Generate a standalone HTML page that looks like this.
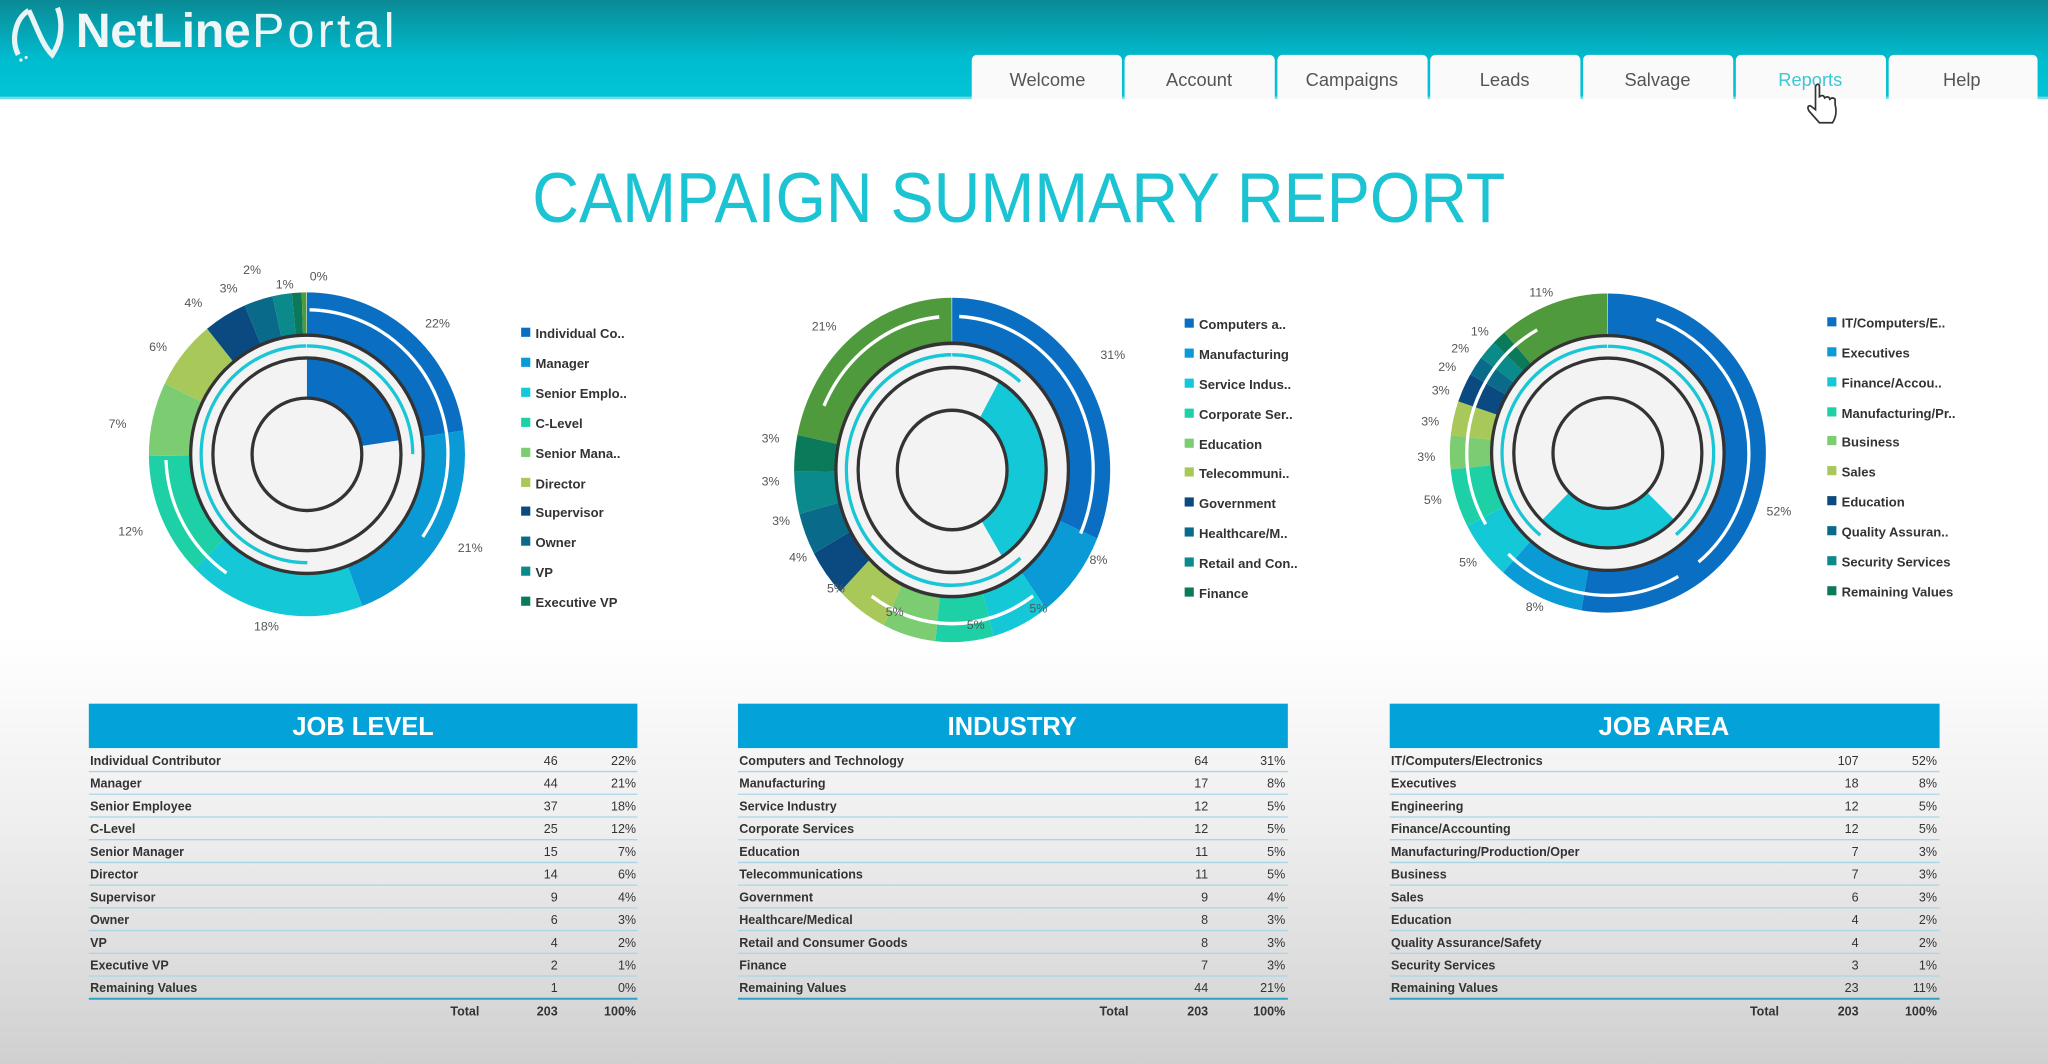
<!DOCTYPE html>
<html><head><meta charset="utf-8">
<style>
html,body{margin:0;padding:0;background:#fff;width:2048px;height:1064px;overflow:hidden}
svg{display:block}
text{font-family:"Liberation Sans",sans-serif}
.lg{font-size:10px;font-weight:bold;fill:#333}
.pc{font-size:9.5px;fill:#555}
.tr{font-size:9.6px;font-weight:bold;fill:#333}
</style></head><body>
<svg width="2048" height="1064" viewBox="0 0 1568 815" preserveAspectRatio="none" xmlns="http://www.w3.org/2000/svg">
<defs>
<linearGradient id="hdr" x1="0" y1="0" x2="0" y2="1"><stop offset="0" stop-color="#0a8a95"/><stop offset="0.6" stop-color="#00bccf"/><stop offset="1" stop-color="#02c4d6"/></linearGradient>
<linearGradient id="bg" x1="0" y1="0" x2="0" y2="1"><stop offset="0" stop-color="#ffffff"/><stop offset="0.6" stop-color="#ffffff"/><stop offset="0.78" stop-color="#eeeeee"/><stop offset="1" stop-color="#d0d0d0"/></linearGradient>
</defs>
<rect width="1568" height="815" fill="url(#bg)"/>
<rect width="1568" height="75" fill="url(#hdr)"/>
<rect y="74" width="1568" height="2" fill="#6fdbe6"/>
<!-- logo -->
<path d="M14 42 C8 30 12 14 22 8 M22 8 C28 20 32 34 40 42 C48 30 48 16 44 6" fill="none" stroke="#e8f4f6" stroke-width="4"/>
<circle cx="16" cy="46" r="1.3" fill="#e8f4f6"/><circle cx="20" cy="44" r="1.2" fill="#e8f4f6"/><circle cx="12" cy="38" r="1.2" fill="#e8f4f6"/>
<text x="58" y="36" font-size="37" font-weight="bold" fill="#eef6f7" textLength="134">NetLine</text>
<text x="193" y="36" font-size="37" fill="#eef6f7" textLength="109">Portal</text>
<!-- tabs -->
<g font-size="14" fill="#555" text-anchor="middle">
<rect x="744" y="42" width="115" height="40" rx="4" fill="#fafafa"/>
<rect x="861" y="42" width="115" height="40" rx="4" fill="#fafafa"/>
<rect x="978" y="42" width="115" height="40" rx="4" fill="#fafafa"/>
<rect x="1095" y="42" width="115" height="40" rx="4" fill="#fafafa"/>
<rect x="1212" y="42" width="115" height="40" rx="4" fill="#fafafa"/>
<rect x="1329" y="42" width="115" height="40" rx="4" fill="#fafafa"/>
<rect x="1446" y="42" width="114" height="40" rx="4" fill="#fafafa"/>
<rect x="744" y="76" width="816" height="8" fill="#fff"/>
<text x="802" y="66">Welcome</text>
<text x="918" y="66">Account</text>
<text x="1035" y="66">Campaigns</text>
<text x="1152" y="66">Leads</text>
<text x="1269" y="66">Salvage</text>
<text x="1386" y="66" fill="#3cc6d6">Reports</text>
<text x="1502" y="66">Help</text>
</g>
<path d="M1390 66 v18 l-4 -3 q-3 0 -1 4 l8 9 h10 q4 -6 2 -14 v-4 q-2 -2 -4 0 q-1 -3 -4 -1 q-1 -3 -4 -1 v-8 q-1 -3 -3 0z" fill="#fff" stroke="#333" stroke-width="1.3"/>
<!-- title -->
<text x="780" y="170" font-size="54" fill="#1cc3d3" text-anchor="middle" textLength="745" lengthAdjust="spacingAndGlyphs">CAMPAIGN SUMMARY REPORT</text>

<!-- Chart 1 -->
<g transform="translate(235,348) scale(1,1.025)">
<circle r="89" fill="#f3f3f3"/>
<g transform="rotate(-90)" fill="none" stroke-width="32">
<circle r="105" pathLength="100" stroke="#0a6fc2" stroke-dasharray="22.66 100"/>
<circle r="105" pathLength="100" stroke="#0a9ad6" stroke-dasharray="21.67 100" stroke-dashoffset="-22.66"/>
<circle r="105" pathLength="100" stroke="#14c8d8" stroke-dasharray="18.23 100" stroke-dashoffset="-44.33"/>
<circle r="105" pathLength="100" stroke="#1dd0a6" stroke-dasharray="12.32 100" stroke-dashoffset="-62.56"/>
<circle r="105" pathLength="100" stroke="#7ccc72" stroke-dasharray="7.39 100" stroke-dashoffset="-74.88"/>
<circle r="105" pathLength="100" stroke="#a9c85a" stroke-dasharray="6.9 100" stroke-dashoffset="-82.27"/>
<circle r="105" pathLength="100" stroke="#0a4a80" stroke-dasharray="4.43 100" stroke-dashoffset="-89.17"/>
<circle r="105" pathLength="100" stroke="#0a6a8a" stroke-dasharray="2.96 100" stroke-dashoffset="-93.6"/>
<circle r="105" pathLength="100" stroke="#0a8a8a" stroke-dasharray="1.97 100" stroke-dashoffset="-96.56"/>
<circle r="105" pathLength="100" stroke="#0a7a5a" stroke-dasharray="0.99 100" stroke-dashoffset="-98.53"/>
<circle r="105" pathLength="100" stroke="#4f9a3c" stroke-dasharray="0.48 100" stroke-dashoffset="-99.52"/>
<g stroke="#fff" stroke-width="2.5">
<circle r="108" pathLength="100" stroke-dasharray="34.4 100" stroke-dashoffset="-0.3"/>
<circle r="108" pathLength="100" stroke-dasharray="14.7 100" stroke-dashoffset="-59.7"/>
</g>
<g stroke="#18c6d6" stroke-width="2.5">
<circle r="81" pathLength="100" stroke-dasharray="50 100" stroke-dashoffset="-50"/>
<circle r="81" pathLength="100" stroke-dasharray="25 100"/>
</g>
<circle r="57" pathLength="100" stroke="#0a6fc2" stroke-width="30" stroke-dasharray="22.66 100"/>
</g>
<circle r="89" fill="none" stroke="#333" stroke-width="2.5"/>
<circle r="72" fill="none" stroke="#333" stroke-width="2.5"/>
<circle r="42" fill="#f3f3f3" stroke="#333" stroke-width="2.5"/>
</g>
<g class="pc" text-anchor="middle">
<text x="335" y="251">22%</text><text x="360" y="423">21%</text><text x="204" y="483">18%</text><text x="100" y="410">12%</text>
<text x="90" y="328">7%</text><text x="121" y="269">6%</text><text x="148" y="235">4%</text><text x="175" y="224">3%</text>
<text x="193" y="210">2%</text><text x="218" y="221">1%</text><text x="244" y="215">0%</text>
</g>
<g class="lg">
<rect x="399" y="251" width="7" height="7" fill="#0a6fc2"/><text x="410" y="259">Individual Co..</text>
<rect x="399" y="274" width="7" height="7" fill="#0a9ad6"/><text x="410" y="282">Manager</text>
<rect x="399" y="297" width="7" height="7" fill="#14c8d8"/><text x="410" y="305">Senior Emplo..</text>
<rect x="399" y="320" width="7" height="7" fill="#1dd0a6"/><text x="410" y="328">C-Level</text>
<rect x="399" y="343" width="7" height="7" fill="#7ccc72"/><text x="410" y="351">Senior Mana..</text>
<rect x="399" y="366" width="7" height="7" fill="#a9c85a"/><text x="410" y="374">Director</text>
<rect x="399" y="388" width="7" height="7" fill="#0a4a80"/><text x="410" y="396">Supervisor</text>
<rect x="399" y="411" width="7" height="7" fill="#0a6a8a"/><text x="410" y="419">Owner</text>
<rect x="399" y="434" width="7" height="7" fill="#0a8a8a"/><text x="410" y="442">VP</text>
<rect x="399" y="457" width="7" height="7" fill="#0a7a5a"/><text x="410" y="465">Executive VP</text>
</g>

<!-- Chart 2 -->
<g transform="translate(729,360) scale(1,1.09)">
<circle r="89" fill="#f3f3f3"/>
<g transform="rotate(-90)" fill="none" stroke-width="32">
<circle r="105" pathLength="100" stroke="#0a6fc2" stroke-dasharray="31.53 100"/>
<circle r="105" pathLength="100" stroke="#0a9ad6" stroke-dasharray="8.37 100" stroke-dashoffset="-31.53"/>
<circle r="105" pathLength="100" stroke="#14c8d8" stroke-dasharray="5.91 100" stroke-dashoffset="-39.9"/>
<circle r="105" pathLength="100" stroke="#1dd0a6" stroke-dasharray="5.91 100" stroke-dashoffset="-45.81"/>
<circle r="105" pathLength="100" stroke="#7ccc72" stroke-dasharray="5.42 100" stroke-dashoffset="-51.72"/>
<circle r="105" pathLength="100" stroke="#a9c85a" stroke-dasharray="5.42 100" stroke-dashoffset="-57.14"/>
<circle r="105" pathLength="100" stroke="#0a4a80" stroke-dasharray="4.43 100" stroke-dashoffset="-62.56"/>
<circle r="105" pathLength="100" stroke="#0a6a8a" stroke-dasharray="3.94 100" stroke-dashoffset="-66.99"/>
<circle r="105" pathLength="100" stroke="#0a8a8a" stroke-dasharray="3.94 100" stroke-dashoffset="-70.93"/>
<circle r="105" pathLength="100" stroke="#0a7a5a" stroke-dasharray="3.45 100" stroke-dashoffset="-74.87"/>
<circle r="105" pathLength="100" stroke="#4f9a3c" stroke-dasharray="21.68 100" stroke-dashoffset="-78.32"/>
<g stroke="#fff" stroke-width="2.5">
<circle r="108" pathLength="100" stroke-dasharray="31 100" stroke-dashoffset="-0.8"/>
<circle r="108" pathLength="100" stroke-dasharray="19.4 100" stroke-dashoffset="-40.3"/>
<circle r="108" pathLength="100" stroke-dasharray="16.7 100" stroke-dashoffset="-81.9"/>
</g>
<g stroke="#18c6d6" stroke-width="2.5">
<circle r="81" pathLength="100" stroke-dasharray="61.1 100" stroke-dashoffset="-38.9"/>
<circle r="81" pathLength="100" stroke-dasharray="11.1 100"/>
</g>
<circle r="57" pathLength="100" stroke="#14c8d8" stroke-width="30" stroke-dasharray="32.8 100" stroke-dashoffset="-8.33"/>
</g>
<circle r="89" fill="none" stroke="#333" stroke-width="2.5"/>
<circle r="72" fill="none" stroke="#333" stroke-width="2.5"/>
<circle r="42" fill="#f3f3f3" stroke="#333" stroke-width="2.5"/>
</g>
<g class="pc" text-anchor="middle">
<text x="631" y="253">21%</text><text x="852" y="275">31%</text><text x="841" y="432">8%</text><text x="795" y="469">5%</text>
<text x="747" y="482">5%</text><text x="685" y="472">5%</text><text x="640" y="454">5%</text><text x="611" y="430">4%</text>
<text x="598" y="402">3%</text><text x="590" y="372">3%</text><text x="590" y="339">3%</text>
</g>
<g class="lg">
<rect x="907" y="244" width="7" height="7" fill="#0a6fc2"/><text x="918" y="252">Computers a..</text>
<rect x="907" y="267" width="7" height="7" fill="#0a9ad6"/><text x="918" y="275">Manufacturing</text>
<rect x="907" y="290" width="7" height="7" fill="#14c8d8"/><text x="918" y="298">Service Indus..</text>
<rect x="907" y="313" width="7" height="7" fill="#1dd0a6"/><text x="918" y="321">Corporate Ser..</text>
<rect x="907" y="336" width="7" height="7" fill="#7ccc72"/><text x="918" y="344">Education</text>
<rect x="907" y="358" width="7" height="7" fill="#a9c85a"/><text x="918" y="366">Telecommuni..</text>
<rect x="907" y="381" width="7" height="7" fill="#0a4a80"/><text x="918" y="389">Government</text>
<rect x="907" y="404" width="7" height="7" fill="#0a6a8a"/><text x="918" y="412">Healthcare/M..</text>
<rect x="907" y="427" width="7" height="7" fill="#0a8a8a"/><text x="918" y="435">Retail and Con..</text>
<rect x="907" y="450" width="7" height="7" fill="#0a7a5a"/><text x="918" y="458">Finance</text>
</g>

<!-- Chart 3 -->
<g transform="translate(1231,347) scale(1,1.01)">
<circle r="89" fill="#f3f3f3"/>
<g transform="rotate(-90)" fill="none" stroke-width="32">
<circle r="105" pathLength="100" stroke="#0a6fc2" stroke-dasharray="52.71 100"/>
<circle r="105" pathLength="100" stroke="#0a9ad6" stroke-dasharray="8.87 100" stroke-dashoffset="-52.71"/>
<circle r="105" pathLength="100" stroke="#14c8d8" stroke-dasharray="5.91 100" stroke-dashoffset="-61.58"/>
<circle r="105" pathLength="100" stroke="#1dd0a6" stroke-dasharray="5.91 100" stroke-dashoffset="-67.49"/>
<circle r="105" pathLength="100" stroke="#7ccc72" stroke-dasharray="3.45 100" stroke-dashoffset="-73.4"/>
<circle r="105" pathLength="100" stroke="#a9c85a" stroke-dasharray="3.45 100" stroke-dashoffset="-76.85"/>
<circle r="105" pathLength="100" stroke="#0a4a80" stroke-dasharray="2.96 100" stroke-dashoffset="-80.3"/>
<circle r="105" pathLength="100" stroke="#0a6a8a" stroke-dasharray="1.97 100" stroke-dashoffset="-83.26"/>
<circle r="105" pathLength="100" stroke="#0a8a8a" stroke-dasharray="1.97 100" stroke-dashoffset="-85.23"/>
<circle r="105" pathLength="100" stroke="#0a7a5a" stroke-dasharray="1.48 100" stroke-dashoffset="-87.2"/>
<circle r="105" pathLength="100" stroke="#4f9a3c" stroke-dasharray="11.32 100" stroke-dashoffset="-88.68"/>
<g stroke="#fff" stroke-width="2.5">
<circle r="108" pathLength="100" stroke-dasharray="33.3 100" stroke-dashoffset="-5.6"/>
<circle r="108" pathLength="100" stroke-dasharray="20.8 100" stroke-dashoffset="-41.7"/>
<circle r="108" pathLength="100" stroke-dasharray="25 100" stroke-dashoffset="-66.7"/>
</g>
<g stroke="#18c6d6" stroke-width="2.5">
<circle r="81" pathLength="100" stroke-dasharray="38.9 100" stroke-dashoffset="-61.1"/>
<circle r="81" pathLength="100" stroke-dasharray="38.9 100"/>
</g>
<circle r="57" pathLength="100" stroke="#14c8d8" stroke-width="30" stroke-dasharray="25 100" stroke-dashoffset="-37.5"/>
</g>
<circle r="89" fill="none" stroke="#333" stroke-width="2.5"/>
<circle r="72" fill="none" stroke="#333" stroke-width="2.5"/>
<circle r="42" fill="#f3f3f3" stroke="#333" stroke-width="2.5"/>
</g>
<g class="pc" text-anchor="middle">
<text x="1180" y="227">11%</text><text x="1133" y="257">1%</text><text x="1118" y="270">2%</text><text x="1108" y="284">2%</text>
<text x="1103" y="302">3%</text><text x="1095" y="326">3%</text><text x="1092" y="353">3%</text><text x="1097" y="386">5%</text>
<text x="1124" y="434">5%</text><text x="1175" y="468">8%</text><text x="1362" y="395">52%</text>
</g>
<g class="lg">
<rect x="1399" y="243" width="7" height="7" fill="#0a6fc2"/><text x="1410" y="251">IT/Computers/E..</text>
<rect x="1399" y="266" width="7" height="7" fill="#0a9ad6"/><text x="1410" y="274">Executives</text>
<rect x="1399" y="289" width="7" height="7" fill="#14c8d8"/><text x="1410" y="297">Finance/Accou..</text>
<rect x="1399" y="312" width="7" height="7" fill="#1dd0a6"/><text x="1410" y="320">Manufacturing/Pr..</text>
<rect x="1399" y="334" width="7" height="7" fill="#7ccc72"/><text x="1410" y="342">Business</text>
<rect x="1399" y="357" width="7" height="7" fill="#a9c85a"/><text x="1410" y="365">Sales</text>
<rect x="1399" y="380" width="7" height="7" fill="#0a4a80"/><text x="1410" y="388">Education</text>
<rect x="1399" y="403" width="7" height="7" fill="#0a6a8a"/><text x="1410" y="411">Quality Assuran..</text>
<rect x="1399" y="426" width="7" height="7" fill="#0a8a8a"/><text x="1410" y="434">Security Services</text>
<rect x="1399" y="449" width="7" height="7" fill="#0a7a5a"/><text x="1410" y="457">Remaining Values</text>
</g>

<!-- Tables -->
<g id="t1">
<rect x="68" y="539" width="420" height="34" fill="#03a2d8"/>
<text x="278" y="563" font-size="19.5" font-weight="bold" fill="#fff" text-anchor="middle">JOB LEVEL</text>
<g stroke="#a9d6e6" stroke-width="1">
<line x1="68" x2="488" y1="591" y2="591"/><line x1="68" x2="488" y1="608.4" y2="608.4"/><line x1="68" x2="488" y1="625.8" y2="625.8"/><line x1="68" x2="488" y1="643.2" y2="643.2"/><line x1="68" x2="488" y1="660.6" y2="660.6"/><line x1="68" x2="488" y1="678" y2="678"/><line x1="68" x2="488" y1="695.4" y2="695.4"/><line x1="68" x2="488" y1="712.8" y2="712.8"/><line x1="68" x2="488" y1="730.2" y2="730.2"/><line x1="68" x2="488" y1="747.6" y2="747.6"/>
</g>
<line x1="68" x2="488" y1="765" y2="765" stroke="#2f9fc4" stroke-width="1.5"/>
<g class="tr">
<text x="69" y="586">Individual Contributor</text><text x="69" y="603.4">Manager</text><text x="69" y="620.8">Senior Employee</text><text x="69" y="638.2">C-Level</text><text x="69" y="655.6">Senior Manager</text><text x="69" y="673">Director</text><text x="69" y="690.4">Supervisor</text><text x="69" y="707.8">Owner</text><text x="69" y="725.2">VP</text><text x="69" y="742.6">Executive VP</text><text x="69" y="760">Remaining Values</text>
</g>
<g class="tr" text-anchor="end" style="font-weight:normal">
<text x="427" y="586">46</text><text x="427" y="603.4">44</text><text x="427" y="620.8">37</text><text x="427" y="638.2">25</text><text x="427" y="655.6">15</text><text x="427" y="673">14</text><text x="427" y="690.4">9</text><text x="427" y="707.8">6</text><text x="427" y="725.2">4</text><text x="427" y="742.6">2</text><text x="427" y="760">1</text>
<text x="487" y="586">22%</text><text x="487" y="603.4">21%</text><text x="487" y="620.8">18%</text><text x="487" y="638.2">12%</text><text x="487" y="655.6">7%</text><text x="487" y="673">6%</text><text x="487" y="690.4">4%</text><text x="487" y="707.8">3%</text><text x="487" y="725.2">2%</text><text x="487" y="742.6">1%</text><text x="487" y="760">0%</text>
</g>
<g class="tr" text-anchor="end"><text x="367" y="778">Total</text><text x="427" y="778">203</text><text x="487" y="778">100%</text></g>
</g>

<g>
<rect x="565" y="539" width="421" height="34" fill="#03a2d8"/>
<text x="775" y="563" font-size="19.5" font-weight="bold" fill="#fff" text-anchor="middle">INDUSTRY</text>
<g stroke="#a9d6e6" stroke-width="1">
<line x1="565" x2="986" y1="591" y2="591"/><line x1="565" x2="986" y1="608.4" y2="608.4"/><line x1="565" x2="986" y1="625.8" y2="625.8"/><line x1="565" x2="986" y1="643.2" y2="643.2"/><line x1="565" x2="986" y1="660.6" y2="660.6"/><line x1="565" x2="986" y1="678" y2="678"/><line x1="565" x2="986" y1="695.4" y2="695.4"/><line x1="565" x2="986" y1="712.8" y2="712.8"/><line x1="565" x2="986" y1="730.2" y2="730.2"/><line x1="565" x2="986" y1="747.6" y2="747.6"/>
</g>
<line x1="565" x2="986" y1="765" y2="765" stroke="#2f9fc4" stroke-width="1.5"/>
<g class="tr">
<text x="566" y="586">Computers and Technology</text><text x="566" y="603.4">Manufacturing</text><text x="566" y="620.8">Service Industry</text><text x="566" y="638.2">Corporate Services</text><text x="566" y="655.6">Education</text><text x="566" y="673">Telecommunications</text><text x="566" y="690.4">Government</text><text x="566" y="707.8">Healthcare/Medical</text><text x="566" y="725.2">Retail and Consumer Goods</text><text x="566" y="742.6">Finance</text><text x="566" y="760">Remaining Values</text>
</g>
<g class="tr" text-anchor="end" style="font-weight:normal">
<text x="925" y="586">64</text><text x="925" y="603.4">17</text><text x="925" y="620.8">12</text><text x="925" y="638.2">12</text><text x="925" y="655.6">11</text><text x="925" y="673">11</text><text x="925" y="690.4">9</text><text x="925" y="707.8">8</text><text x="925" y="725.2">8</text><text x="925" y="742.6">7</text><text x="925" y="760">44</text>
<text x="984" y="586">31%</text><text x="984" y="603.4">8%</text><text x="984" y="620.8">5%</text><text x="984" y="638.2">5%</text><text x="984" y="655.6">5%</text><text x="984" y="673">5%</text><text x="984" y="690.4">4%</text><text x="984" y="707.8">3%</text><text x="984" y="725.2">3%</text><text x="984" y="742.6">3%</text><text x="984" y="760">21%</text>
</g>
<g class="tr" text-anchor="end"><text x="864" y="778">Total</text><text x="925" y="778">203</text><text x="984" y="778">100%</text></g>
</g>

<g>
<rect x="1064" y="539" width="421" height="34" fill="#03a2d8"/>
<text x="1274" y="563" font-size="19.5" font-weight="bold" fill="#fff" text-anchor="middle">JOB AREA</text>
<g stroke="#a9d6e6" stroke-width="1">
<line x1="1064" x2="1485" y1="591" y2="591"/><line x1="1064" x2="1485" y1="608.4" y2="608.4"/><line x1="1064" x2="1485" y1="625.8" y2="625.8"/><line x1="1064" x2="1485" y1="643.2" y2="643.2"/><line x1="1064" x2="1485" y1="660.6" y2="660.6"/><line x1="1064" x2="1485" y1="678" y2="678"/><line x1="1064" x2="1485" y1="695.4" y2="695.4"/><line x1="1064" x2="1485" y1="712.8" y2="712.8"/><line x1="1064" x2="1485" y1="730.2" y2="730.2"/><line x1="1064" x2="1485" y1="747.6" y2="747.6"/>
</g>
<line x1="1064" x2="1485" y1="765" y2="765" stroke="#2f9fc4" stroke-width="1.5"/>
<g class="tr">
<text x="1065" y="586">IT/Computers/Electronics</text><text x="1065" y="603.4">Executives</text><text x="1065" y="620.8">Engineering</text><text x="1065" y="638.2">Finance/Accounting</text><text x="1065" y="655.6">Manufacturing/Production/Oper</text><text x="1065" y="673">Business</text><text x="1065" y="690.4">Sales</text><text x="1065" y="707.8">Education</text><text x="1065" y="725.2">Quality Assurance/Safety</text><text x="1065" y="742.6">Security Services</text><text x="1065" y="760">Remaining Values</text>
</g>
<g class="tr" text-anchor="end" style="font-weight:normal">
<text x="1423" y="586">107</text><text x="1423" y="603.4">18</text><text x="1423" y="620.8">12</text><text x="1423" y="638.2">12</text><text x="1423" y="655.6">7</text><text x="1423" y="673">7</text><text x="1423" y="690.4">6</text><text x="1423" y="707.8">4</text><text x="1423" y="725.2">4</text><text x="1423" y="742.6">3</text><text x="1423" y="760">23</text>
<text x="1483" y="586">52%</text><text x="1483" y="603.4">8%</text><text x="1483" y="620.8">5%</text><text x="1483" y="638.2">5%</text><text x="1483" y="655.6">3%</text><text x="1483" y="673">3%</text><text x="1483" y="690.4">3%</text><text x="1483" y="707.8">2%</text><text x="1483" y="725.2">2%</text><text x="1483" y="742.6">1%</text><text x="1483" y="760">11%</text>
</g>
<g class="tr" text-anchor="end"><text x="1362" y="778">Total</text><text x="1423" y="778">203</text><text x="1483" y="778">100%</text></g>
</g>
</svg>
</body></html>
